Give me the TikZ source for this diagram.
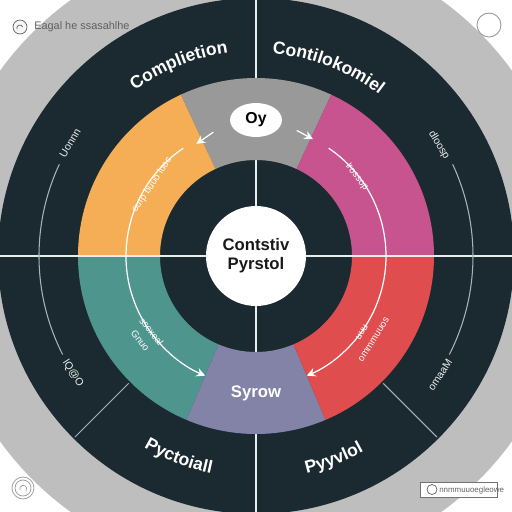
\documentclass[tikz,border=0pt]{standalone}
\usepackage{fontspec}
\setmainfont{Liberation Sans}
\usetikzlibrary{arrows.meta,shapes.geometric,decorations.text}

\definecolor{bgring}{HTML}{BEBEBE}
\definecolor{darkring}{HTML}{1B2A30}
\definecolor{segorange}{HTML}{F5AE56}
\definecolor{seggray}{HTML}{999999}
\definecolor{segpink}{HTML}{C8548F}
\definecolor{segred}{HTML}{E04D4F}
\definecolor{segpurple}{HTML}{8383A7}
\definecolor{segteal}{HTML}{4E958E}
\definecolor{guide}{HTML}{A3B6B9}
\definecolor{fadetext}{HTML}{606060}

\tikzset{
  guideline/.style={guide, line width=0.6pt},
  axisline/.style={white!75!guide, line width=1pt},
  flowarc/.style={white, line width=0.7pt},
  flowtip/.style={-{Stealth[length=5pt,width=5pt]}},
  arclabel/.style={text=white, font=\fontsize{5.5}{8}\selectfont, inner sep=0pt, align=center},
  guidelabel/.style={text=white!80!guide, font=\fontsize{6}{7}\selectfont, inner sep=0pt},
  hubtext/.style={font=\bfseries\fontsize{9.5}{13}\selectfont, text=black!90, align=center},
}

\begin{document}
\begin{tikzpicture}[x=0.02cm,y=0.02cm]
\useasboundingbox (-256,-256) rectangle (256,256);
\fill[white] (-256,-256) rectangle (256,256);

% background rings
\begin{scope}
\clip (-256,-256) rectangle (256,256);
\fill[bgring] (0,0) circle (316);
\fill[darkring] (0,0) circle (258);
\draw[axisline] (0,-256) -- (0,256);
\end{scope}

% coloured segments
\fill[seggray] (65:178) arc[start angle=65, end angle=115, radius=178] -- (115:96) arc[start angle=115, end angle=65, radius=96] -- cycle;
\fill[segorange] (115:178) arc[start angle=115, end angle=180, radius=178] -- (180:96) arc[start angle=180, end angle=115, radius=96] -- cycle;
\fill[segteal] (180:178) arc[start angle=180, end angle=247, radius=178] -- (247:96) arc[start angle=247, end angle=180, radius=96] -- cycle;
\fill[segpurple] (247:178) arc[start angle=247, end angle=293, radius=178] -- (293:96) arc[start angle=293, end angle=247, radius=96] -- cycle;
\fill[segred] (293:178) arc[start angle=293, end angle=360, radius=178] -- (0:96) arc[start angle=360, end angle=293, radius=96] -- cycle;
\fill[segpink] (0:178) arc[start angle=0, end angle=65, radius=178] -- (65:96) arc[start angle=65, end angle=0, radius=96] -- cycle;

\draw[axisline] (-256,0) -- (256,0);

% dividers and guide arcs in the outer ring
\draw[guideline] (225:180) -- (225:256);
\draw[guideline] (315:180) -- (315:256);
\draw[guideline] (155:217) arc[start angle=155, end angle=207, radius=217];
\draw[guideline] (25:217) arc[start angle=25, end angle=-27, radius=217];

% flow arcs
\draw[flowarc, flowtip] (124:130) arc[start angle=124, end angle=247, radius=130];
\draw[flowarc, flowtip] (56:130) arc[start angle=56, end angle=-67, radius=130];
\draw[flowarc, flowtip] (109:131) -- (118:127);
\draw[flowarc, flowtip] (72:132) -- (64:130);

% hub and top oval
\node[circle, fill=white, minimum size=2cm, inner sep=0pt, hubtext] (hub) at (0,0) {Contstiv\\[-2pt]Pyrstol};
\node[ellipse, fill=white, minimum width=1.04cm, minimum height=0.68cm, inner sep=0pt,
      font=\bfseries\fontsize{9}{10}\selectfont] (topoval) at (0,136) {Oy};
\node[font=\bfseries\fontsize{9.5}{11}\selectfont, text=white] (bottomlabel) at (0,-137) {Syrow};

% outer ring labels
\path[decorate, decoration={text along path, text align=center,
  text={|\bfseries\fontsize{10}{12}\selectfont\color{white}|Complietion}}]
  (146:205) arc[start angle=146, end angle=78, radius=205];
\path[decorate, decoration={text along path, text align=center,
  text={|\bfseries\fontsize{10}{12}\selectfont\color{white}|Contilokomiel}}]
  (103:203) arc[start angle=103, end angle=35, radius=203];
\path[decorate, decoration={text along path, text align=center,
  text={|\bfseries\fontsize{10}{12}\selectfont\color{white}|Pyctoiall}}]
  (215:222) arc[start angle=215, end angle=283, radius=222];
\path[decorate, decoration={text along path, text align=center,
  text={|\bfseries\fontsize{10}{12}\selectfont\color{white}|Pyyvlol}}]
  (257:223) arc[start angle=257, end angle=325, radius=223];

% small labels on the guide arcs
\node[guidelabel, rotate=59] (guidenw) at (-186,113) {Uonnn};
\node[guidelabel, rotate=-57] (guidesw) at (-183,-117) {lQ@O};
\node[guidelabel, rotate=-59] (guidene) at (183,111) {dloosp};
\node[guidelabel, rotate=57] (guidese) at (184,-119) {omaaM};

% small labels on the flow arcs
\node[arclabel, rotate=56] (orangenote) at (-104,71) {ourp buuo luoc};
\node[arclabel, rotate=-52] (tealnote) at (-110,-80) {sscxeal\\Gnuo};
\node[arclabel, rotate=-52] (pinknote) at (101,79) {lrossop};
\node[arclabel, rotate=58] (rednote) at (112,-80) {uuu\\ommmuuos};

% corner marks
\draw[fadetext, fill=white!92!gray, line width=0.4pt] (-236,229) circle (7);
\draw[fadetext, line width=0.4pt] (-239,227) arc[start angle=200, end angle=20, radius=3];
\node[anchor=west, text=fadetext, font=\fontsize{6.2}{7}\selectfont, inner sep=0pt] (headtext) at (-222,229) {Eagal he ssasahlhe};
\draw[bgring!80!black, fill=white, line width=0.5pt] (233,231) circle (12);
\draw[bgring!80!black, line width=0.4pt] (-233,-232) circle (11);
\draw[bgring!80!black, line width=0.4pt] (-233,-232) circle (8);
\draw[bgring!80!black, line width=0.4pt] (-236,-234) arc[start angle=200, end angle=-40, radius=3.5];
\draw[bgring!60!black, fill=white, line width=0.3pt] (164,-226) rectangle (241,-241);
\draw[fadetext, line width=0.4pt] (176,-233.5) circle (5);
\node[anchor=west, text=fadetext, font=\fontsize{4.5}{5}\selectfont, inner sep=0pt] (boxtext) at (183,-234.5) {nnmmuuoegleowe};
\end{tikzpicture}
\end{document}
